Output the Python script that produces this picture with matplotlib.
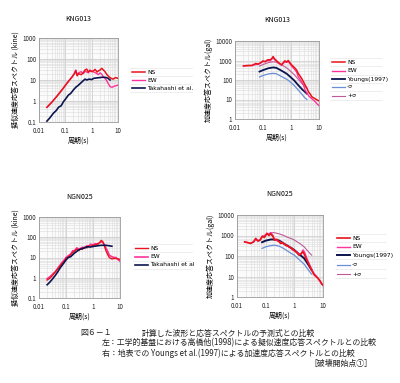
import matplotlib
matplotlib.use("Agg")
import matplotlib.pyplot as plt
from matplotlib.ticker import LogLocator, FuncFormatter, NullFormatter
from matplotlib.lines import Line2D

plt.rcParams['font.family'] = ['Noto Sans CJK JP', 'DejaVu Sans']

# ---------------- data ----------------
# KNG013 pseudo-velocity (kine)
kv_T_ns = [0.02, 0.03, 0.05, 0.08, 0.12, 0.18, 0.22, 0.25, 0.28, 0.32, 0.4, 0.48, 0.56, 0.65, 0.75, 0.85, 1.0, 1.2, 1.35, 1.6, 1.8, 2.1, 2.4, 2.8, 3.2, 3.8, 4.6, 5.5, 6.5, 8.0, 10.0]
kv_ns = [0.5, 0.85, 1.8, 3.8, 7.5, 14, 20, 28, 16, 20, 18, 22, 30, 33, 24, 28, 25, 28, 32, 24, 27, 30, 36, 30, 25, 18, 14, 12, 11, 13, 12]
kv_T_ew = [0.02, 0.03, 0.05, 0.08, 0.12, 0.18, 0.22, 0.25, 0.28, 0.32, 0.4, 0.48, 0.56, 0.65, 0.75, 0.86, 1.0, 1.2, 1.5, 1.8, 2.1, 2.4, 2.8, 3.2, 3.6, 4.2, 5.0, 6.0, 7.0, 8.5, 10.0]
kv_ew = [0.5, 0.85, 1.8, 3.8, 7.5, 14, 20, 30, 17, 22, 25, 20, 26, 24, 22, 30, 26, 24, 21, 18, 22, 19, 14, 12, 10, 7, 4.8, 4.5, 5.0, 5.4, 5.7]
kv_T_tk = [0.02, 0.025, 0.035, 0.045, 0.055, 0.07, 0.085, 0.1, 0.13, 0.16, 0.2, 0.25, 0.32, 0.4, 0.48, 0.56, 0.65, 0.8, 1.0, 1.2, 1.5, 2.0, 2.4, 3.0, 3.6, 4.2, 5.0]
kv_tk = [0.11, 0.15, 0.26, 0.35, 0.5, 0.6, 0.93, 1.2, 1.9, 2.3, 3.3, 4.5, 5.8, 7.5, 9.3, 11, 10, 11, 10.5, 12, 12.5, 13, 13.4, 13.5, 13, 12, 10]

# KNG013 acceleration (gal)
ka_T_ns = [0.02, 0.03, 0.04, 0.055, 0.068, 0.085, 0.1, 0.12, 0.15, 0.18, 0.21, 0.23, 0.26, 0.3, 0.35, 0.4, 0.46, 0.52, 0.6, 0.7, 0.8, 0.9, 1.05, 1.2, 1.4, 1.6, 1.8, 2.1, 2.4, 2.8, 3.2, 3.7, 4.2, 5.0, 5.5, 6.5, 7.2, 8.5, 10.0]
ka_ns = [530, 560, 550, 700, 650, 800, 950, 890, 1100, 1080, 1300, 1600, 1200, 1000, 800, 700, 600, 750, 960, 850, 1000, 800, 600, 500, 400, 320, 220, 160, 120, 80, 55, 38, 25, 18, 14, 12, 11, 9.5, 8.5]
ka_T_ew = [0.02, 0.03, 0.04, 0.055, 0.068, 0.085, 0.1, 0.12, 0.15, 0.18, 0.21, 0.23, 0.26, 0.3, 0.35, 0.4, 0.46, 0.52, 0.6, 0.7, 0.8, 0.9, 1.05, 1.2, 1.4, 1.6, 1.8, 2.1, 2.4, 2.8, 3.2, 3.7, 4.2, 4.8, 5.5, 6.5, 7.2, 8.5, 10.0]
ka_ew = [520, 540, 560, 620, 650, 760, 900, 850, 1000, 950, 1200, 1400, 1100, 900, 750, 650, 560, 700, 850, 800, 900, 700, 520, 420, 330, 250, 150, 110, 80, 55, 30, 22, 16, 13, 11, 9, 8, 6, 4.8]
ka_T_yg = [0.075, 0.1, 0.155, 0.23, 0.3, 0.46, 0.7, 0.92, 1.3, 1.8, 2.5, 3.0, 3.7]
ka_yg = [270, 320, 400, 440, 420, 300, 210, 150, 95, 55, 33, 26, 20]
ka_T_ms = [0.075, 0.1, 0.155, 0.23, 0.3, 0.46, 0.7, 0.92, 1.3, 1.8, 2.5, 3.0, 3.7]
ka_ms = [143, 170, 205, 220, 210, 150, 110, 82, 52, 31, 18, 13, 10]
ka_T_ps = [0.075, 0.1, 0.155, 0.23, 0.3, 0.46, 0.7, 0.92, 1.3, 1.8, 2.5, 3.0, 3.7]
ka_ps = [520, 620, 780, 860, 820, 600, 420, 300, 190, 110, 65, 50, 38]

# NGN025 pseudo-velocity (kine)
nv_T_ns = [0.02, 0.025, 0.03, 0.04, 0.05, 0.07, 0.09, 0.1, 0.12, 0.15, 0.18, 0.2, 0.25, 0.3, 0.35, 0.4, 0.5, 0.6, 0.7, 0.8, 1.0, 1.2, 1.5, 1.8, 2.0, 2.3, 2.6, 3.0, 3.5, 4.0, 5.0, 6.0, 7.0, 8.5, 10.0]
nv_ns = [0.77, 0.95, 1.2, 1.9, 2.8, 5.0, 7.0, 9.5, 10, 14, 18, 20, 26, 22, 28, 25, 33, 30, 38, 35, 40, 42, 48, 55, 70, 62, 40, 22, 14, 10, 8.5, 9, 9, 8.5, 8]
nv_T_ew = [0.02, 0.025, 0.03, 0.04, 0.05, 0.07, 0.09, 0.1, 0.12, 0.15, 0.18, 0.2, 0.25, 0.3, 0.35, 0.4, 0.5, 0.6, 0.7, 0.8, 1.0, 1.2, 1.5, 1.8, 2.0, 2.3, 2.6, 3.0, 3.5, 4.0, 5.0, 6.0, 7.0, 8.5, 10.0]
nv_ew = [0.9, 1.1, 1.4, 2.0, 3.0, 5.5, 8.0, 10, 12, 15, 22, 20, 30, 26, 28, 32, 30, 38, 35, 45, 42, 48, 45, 55, 60, 55, 45, 30, 20, 13, 11, 10, 10, 8, 6.5]
nv_T_tk = [0.02, 0.025, 0.03, 0.04, 0.05, 0.06, 0.08, 0.1, 0.12, 0.15, 0.2, 0.25, 0.3, 0.4, 0.5, 0.6, 0.8, 1.0, 1.5, 2.0, 3.0, 4.0, 5.0]
nv_tk = [0.45, 0.6, 0.8, 1.3, 2.0, 3.0, 5.0, 7.5, 10, 11, 16, 20, 24, 28, 30, 34, 33, 35, 38, 40, 40, 38, 36]

# NGN025 acceleration (gal)
na_T_ns = [0.0185, 0.025, 0.03, 0.038, 0.045, 0.054, 0.065, 0.076, 0.09, 0.11, 0.13, 0.15, 0.18, 0.2, 0.25, 0.33, 0.4, 0.5, 0.57, 0.7, 0.85, 0.97, 1.2, 1.45, 1.7, 2.0, 2.3, 2.7, 3.2, 3.7, 4.2, 4.9, 5.7, 6.6, 8.0, 9.0, 10.0]
na_ns = [490, 440, 410, 500, 720, 530, 600, 900, 800, 1250, 1000, 1200, 900, 600, 650, 410, 450, 330, 320, 260, 230, 195, 150, 110, 130, 160, 110, 64, 40, 25, 18, 12, 10, 8.5, 6, 4.3, 4.0]
na_T_ew = [0.0185, 0.025, 0.03, 0.038, 0.045, 0.054, 0.065, 0.076, 0.09, 0.11, 0.13, 0.15, 0.18, 0.2, 0.25, 0.33, 0.4, 0.5, 0.57, 0.7, 0.85, 0.97, 1.2, 1.45, 1.7, 2.0, 2.3, 2.7, 3.2, 3.7, 4.2, 4.9, 5.7, 6.6, 8.0, 9.0, 10.0]
na_ew = [480, 450, 420, 480, 650, 560, 650, 950, 900, 1300, 1100, 1400, 1000, 700, 550, 480, 400, 360, 300, 280, 200, 180, 160, 130, 120, 200, 150, 80, 45, 30, 20, 14, 11, 8, 5.5, 4.5, 3.5]
na_T_yg = [0.075, 0.1, 0.15, 0.2, 0.3, 0.43, 0.6, 0.8, 1.0, 1.5, 2.2, 3.0, 4.0]
na_yg = [470, 560, 640, 640, 560, 400, 310, 240, 195, 120, 77, 40, 21]
na_T_ms = [0.075, 0.1, 0.15, 0.2, 0.3, 0.43, 0.6, 0.8, 1.0, 1.5, 2.2, 3.0, 4.0]
na_ms = [235, 280, 320, 340, 300, 230, 170, 130, 110, 65, 40, 22, 13]
na_T_ps = [0.075, 0.1, 0.15, 0.2, 0.3, 0.43, 0.6, 0.8, 1.0, 1.5, 2.2, 3.0, 4.0]
na_ps = [850, 1100, 1350, 1380, 1200, 1000, 800, 700, 600, 420, 280, 170, 110]

titles = ["KNG013", "KNG013", "NGN025", "NGN025"]
ylab_v = "擬似速度応答スペクトル (kine)"
ylab_a = "加速度応答スペクトル(gal)"
xlab = "周期(s)"

C_NS = "#e8141c"
C_EW = "#ff3399"
C_TK = "#0c1450"
C_MS = "#6a8fd8"
C_PS = "#c05a98"

W, H = 400, 383
fig = plt.figure(figsize=(4.0, 3.83), dpi=100)

def fx(px):
    return px / W

def fy(py):
    return 1 - py / H

def make_ax(l, t, r, b, ylim):
    ax = fig.add_axes([fx(l), fy(b), fx(r) - fx(l), fy(t) - fy(b)])
    ax.set_xscale('log')
    ax.set_yscale('log')
    ax.set_xlim(0.01, 10)
    ax.set_ylim(*ylim)
    fmt = FuncFormatter(lambda v, p: ('%g' % v))
    ax.xaxis.set_major_formatter(fmt)
    ax.yaxis.set_major_formatter(fmt)
    ax.xaxis.set_minor_formatter(NullFormatter())
    ax.yaxis.set_minor_formatter(NullFormatter())
    ax.xaxis.set_major_locator(LogLocator(base=10, numticks=10))
    ax.yaxis.set_major_locator(LogLocator(base=10, numticks=10))
    ax.xaxis.set_minor_locator(LogLocator(base=10, subs=range(2, 10), numticks=10))
    ax.yaxis.set_minor_locator(LogLocator(base=10, subs=range(2, 10), numticks=10))
    ax.grid(True, which='major', color='#c4c4c4', lw=0.5)
    ax.grid(True, which='minor', color='#dcdcdc', lw=0.4)
    ax.tick_params(which='both', length=0, labelsize=4.5, colors='#222222')
    ax.tick_params(axis='x', pad=3.5)
    ax.tick_params(axis='y', pad=2)
    for s in ax.spines.values():
        s.set_color('#9a9a9a')
        s.set_linewidth(0.6)
    ax.set_facecolor('#fbfbfb')
    ax.set_xlabel(xlab, fontsize=5, labelpad=1)
    return ax

# top-left
ax1 = make_ax(39, 38, 118, 122, (0.1, 1000))
ax1.plot(kv_T_ew, kv_ew, color=C_EW, lw=1.0, label="EW")
ax1.plot(kv_T_ns, kv_ns, color=C_NS, lw=1.1, label="NS")
ax1.plot(kv_T_tk, kv_tk, color=C_TK, lw=1.2, label="Takahashi et al.")
ax1.set_ylabel(ylab_v, fontsize=5, labelpad=2)
ax1.set_title(titles[0], fontsize=5, pad=12)

# top-right
ax2 = make_ax(235, 41, 319, 119, (1, 10000))
ax2.plot(ka_T_ps, ka_ps, color=C_PS, lw=0.8, label="+σ")
ax2.plot(ka_T_ms, ka_ms, color=C_MS, lw=0.9, label="-σ")
ax2.plot(ka_T_yg, ka_yg, color=C_TK, lw=1.3, label="Youngs(1997)")
ax2.plot(ka_T_ew, ka_ew, color=C_EW, lw=1.0, label="EW")
ax2.plot(ka_T_ns, ka_ns, color=C_NS, lw=1.1, label="NS")
ax2.set_ylabel(ylab_a, fontsize=5, labelpad=2)
ax2.set_title(titles[1], fontsize=5, pad=14)

# bottom-left
ax3 = make_ax(39, 217, 120, 298, (0.1, 1000))
ax3.plot(nv_T_ew, nv_ew, color=C_EW, lw=1.2, label="EW")
ax3.plot(nv_T_ns, nv_ns, color=C_NS, lw=1.0, label="NS")
ax3.plot(nv_T_tk, nv_tk, color=C_TK, lw=1.2, label="Takahashi et al")
ax3.set_ylabel(ylab_v, fontsize=5, labelpad=2)
ax3.set_title(titles[2], fontsize=5, pad=13)

# bottom-right
ax4 = make_ax(237, 215, 323, 297, (1, 10000))
ax4.plot(na_T_ps, na_ps, color=C_PS, lw=0.8, label="+σ")
ax4.plot(na_T_ms, na_ms, color=C_MS, lw=0.9, label="-σ")
ax4.plot(na_T_yg, na_yg, color=C_TK, lw=1.4, label="Youngs(1997)")
ax4.plot(na_T_ew, na_ew, color=C_EW, lw=1.0, label="EW")
ax4.plot(na_T_ns, na_ns, color=C_NS, lw=1.2, label="NS")
ax4.set_ylabel(ylab_a, fontsize=5, labelpad=2)
ax4.set_title(titles[3], fontsize=5, pad=14)

def add_legend(ax, order, x0, ys, x_sep_end):
    hs, ls = ax.get_legend_handles_labels()
    d = dict(zip(ls, hs))
    for lab, y in zip(order, ys):
        h = d[lab]
        fig.add_artist(Line2D([fx(x0), fx(x0 + 13)], [fy(y), fy(y)],
                              color=h.get_color(), lw=h.get_linewidth()))
        fig.text(fx(x0 + 15), fy(y), lab, fontsize=4.3, va='center', ha='left',
                 family=['DejaVu Sans'])
        fig.add_artist(Line2D([fx(x0 - 2), fx(x_sep_end)], [fy(y + 4.3), fy(y + 4.3)],
                              color='#e2e2e2', lw=0.4))
    fig.add_artist(Line2D([fx(x0 - 2), fx(x_sep_end)], [fy(ys[0] - 4.3), fy(ys[0] - 4.3)],
                          color='#e2e2e2', lw=0.4))

add_legend(ax1, ["NS", "EW", "Takahashi et al."], 132, [72, 80, 88], 192)
add_legend(ax2, ["NS", "EW", "Youngs(1997)", "-σ", "+σ"], 332, [62, 71, 79, 87, 96], 382)
add_legend(ax3, ["NS", "EW", "Takahashi et al"], 135, [248, 257, 265], 192)
add_legend(ax4, ["NS", "EW", "Youngs(1997)", "-σ", "+σ"], 337, [238, 247, 255, 265, 274], 386)

# caption
cap_kw = dict(fontsize=5.7, va='center', color='#222222')
fig.text(fx(80), fy(333), "図６－１", ha='left', **cap_kw)
fig.text(fx(142), fy(333), "計算した波形と応答スペクトルの予測式との比較", ha='left', **cap_kw)
fig.text(fx(102), fy(343), "左：工学的基盤における高橋他(1998)による擬似速度応答スペクトルとの比較", ha='left', **cap_kw)
fig.text(fx(102), fy(353), "右：地表での Youngs et al.(1997)による加速度応答スペクトルとの比較", ha='left', **cap_kw)
fig.text(fx(372), fy(363), "［破壊開始点①］", ha='right', **cap_kw)

fig.savefig("out.png", dpi=100)
